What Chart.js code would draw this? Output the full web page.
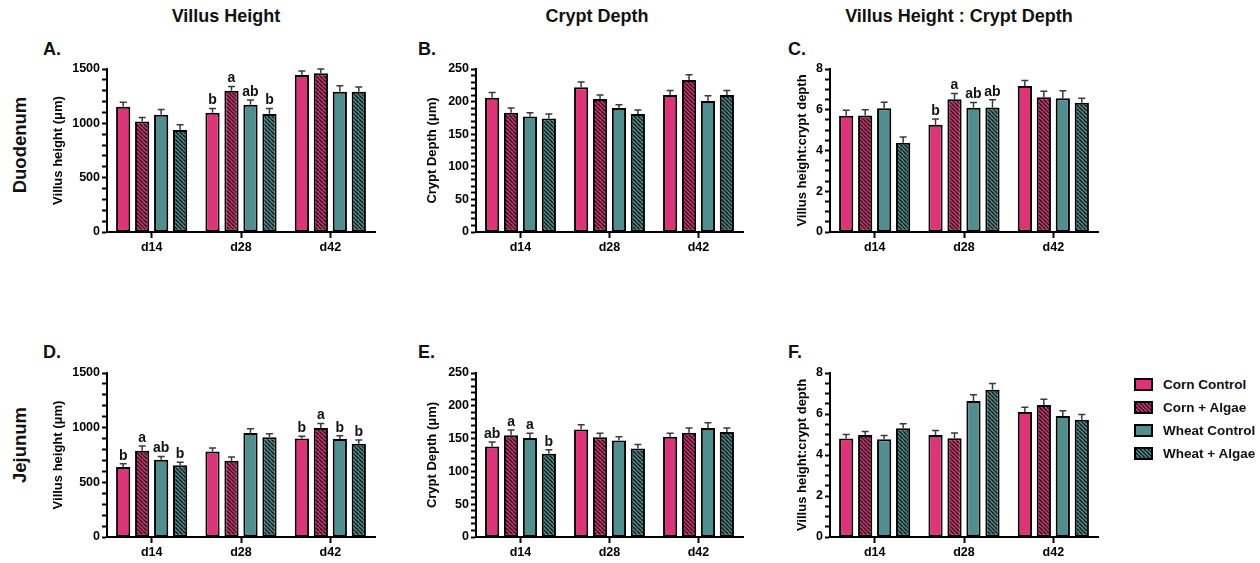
<!DOCTYPE html>
<html>
<head>
<meta charset="utf-8">
<script src="https://cdn.jsdelivr.net/npm/chart.js@4.4.1/dist/chart.umd.min.js"></script>
<style>
  body { margin: 0; background: #fff; font-family: "Liberation Sans", Arial, sans-serif; font-weight: bold; color: #111; }
  #page { position: relative; width: 1260px; height: 563px; overflow: hidden; }
  .abs { position: absolute; white-space: nowrap; }
  .coltitle { font-size: 18px; transform: translate(-50%, -50%); }
  .plabel { font-size: 18px; transform: translate(0, -50%); }
  .rowlabel { font-size: 18.5px; transform: translate(-50%, -50%) rotate(-90deg); }
  canvas { position: absolute; }
  .leg { position: absolute; left: 1134px; height: 20px; font-size: 13.5px; display: flex; align-items: center; white-space: nowrap; }
  .leg canvas { position: static; margin-right: 10px; }
</style>
</head>
<body>
<div id="page">
  <div class="abs coltitle" style="left:226px; top:16px;">Villus Height</div>
  <div class="abs coltitle" style="left:597px; top:16px;">Crypt Depth</div>
  <div class="abs coltitle" style="left:959px; top:16px;">Villus Height : Crypt Depth</div>

  <div class="abs rowlabel" style="left:20px; top:145px;">Duodenum</div>
  <div class="abs rowlabel" style="left:20px; top:445px;">Jejunum</div>

  <div class="abs plabel" style="left:43px; top:49px;">A.</div>
  <div class="abs plabel" style="left:418px; top:49px;">B.</div>
  <div class="abs plabel" style="left:788px; top:49px;">C.</div>
  <div class="abs plabel" style="left:43px; top:352px;">D.</div>
  <div class="abs plabel" style="left:418px; top:352px;">E.</div>
  <div class="abs plabel" style="left:788px; top:352px;">F.</div>

  <canvas id="pA"></canvas>
  <canvas id="pB"></canvas>
  <canvas id="pC"></canvas>
  <canvas id="pD"></canvas>
  <canvas id="pE"></canvas>
  <canvas id="pF"></canvas>
  <div id="legend"></div>
</div>
<script>
// grupos e tratamentos
const groups = ['d14', 'd28', 'd42'];
const seriesNames = ['Corn Control', 'Corn + Algae', 'Wheat Control', 'Wheat + Algae'];

// linhas = tratamento, colunas = d14, d28, d42
// Duodeno - altura das vilosidades
const duoVillusMean = [[1153, 1097, 1445], [1017, 1300, 1460], [1079, 1171, 1291], [938, 1085, 1291]];
const duoVillusErr  = [[40, 40, 37], [37, 40, 40], [49, 43, 55], [49, 52, 43]];
const duoVillusSig  = [['', 'b', ''], ['', 'a', ''], ['', 'ab', ''], ['', 'b', '']];
// Duodeno - profundidade de cripta
const duoCryptMean = [[206, 222, 210], [183, 204, 233], [177, 190, 201], [174, 181, 210]];
const duoCryptErr  = [[8, 8, 7], [7, 6, 8], [6, 5, 8], [7, 6, 7]];
// Duodeno - relação
const duoRatioMean = [[5.70, 5.26, 7.16], [5.72, 6.52, 6.61], [6.07, 6.10, 6.57], [4.38, 6.11, 6.34]];
const duoRatioErr  = [[0.27, 0.28, 0.28], [0.28, 0.28, 0.30], [0.30, 0.25, 0.36], [0.28, 0.38, 0.23]];
const duoRatioSig  = [['', 'b', ''], ['', 'a', ''], ['', 'ab', ''], ['', 'ab', '']];
// Jejuno - altura das vilosidades
const jejVillusMean = [[640, 781, 900], [790, 698, 997], [707, 951, 896], [656, 912, 854]];
const jejVillusErr  = [[30, 33, 21], [42, 34, 40], [30, 40, 31], [27, 33, 33]];
const jejVillusSig  = [['b', '', 'b'], ['a', '', 'a'], ['ab', '', 'b'], ['b', '', 'b']];
// Jejuno - profundidade de cripta
const jejCryptMean = [[138, 164, 153], [155, 152, 159], [151, 147, 166], [127, 135, 160]];
const jejCryptErr  = [[7, 7, 5], [8, 6, 7], [7, 6, 8], [6, 6, 6]];
const jejCryptSig  = [['ab', '', ''], ['a', '', ''], ['a', '', ''], ['b', '', '']];
// Jejuno - relação
const jejRatioMean = [[4.80, 4.97, 6.10], [4.97, 4.82, 6.44], [4.77, 6.64, 5.90], [5.31, 7.18, 5.72]];
const jejRatioErr  = [[0.20, 0.23, 0.23], [0.18, 0.25, 0.28], [0.18, 0.30, 0.26], [0.21, 0.31, 0.26]];

const FONT = '"Liberation Sans", Arial, sans-serif';
Chart.defaults.font.family = FONT;

const pink = '#df3279';
const teal = '#4f8f8f';

// padrão hachurado "\\\" para os grupos com alga
function makeHatch(base) {
  const s = 4;
  const tile = document.createElement('canvas');
  tile.width = s; tile.height = s;
  const c = tile.getContext('2d');
  c.fillStyle = base;
  c.fillRect(0, 0, s, s);
  c.strokeStyle = 'rgba(10,10,10,0.9)';
  c.lineWidth = 1.5;
  c.beginPath();
  for (const x0 of [-s, 0, s]) {
    c.moveTo(x0, 0);
    c.lineTo(x0 + s, s);
  }
  c.stroke();
  return c.createPattern(tile, 'repeat');
}
const fills = [pink, makeHatch(pink), teal, makeHatch(teal)];

// barras de erro (só para cima) e letras de significância
const errorBarPlugin = {
  id: 'errorBars',
  afterDatasetsDraw(chart) {
    const ctx = chart.ctx;
    const y = chart.scales.y;
    ctx.save();
    chart.data.datasets.forEach((ds, i) => {
      const meta = chart.getDatasetMeta(i);
      meta.data.forEach((bar, j) => {
        const top = y.getPixelForValue(ds.data[j] + ds.errors[j]);
        ctx.strokeStyle = '#3a3a3a';
        ctx.lineWidth = 1.5;
        ctx.beginPath();
        ctx.moveTo(bar.x, bar.y);
        ctx.lineTo(bar.x, top);
        ctx.moveTo(bar.x - 3.5, top);
        ctx.lineTo(bar.x + 3.5, top);
        ctx.stroke();
        const s = ds.sig ? ds.sig[j] : '';
        if (s) {
          ctx.fillStyle = '#111';
          ctx.font = 'bold 14px ' + FONT;
          ctx.textAlign = 'center';
          ctx.textBaseline = 'bottom';
          ctx.fillText(s, bar.x, top - 1);
        }
      });
    });
    ctx.restore();
  }
};

const panels = [
  { id: 'pA', left: 51,  top: 59,  width: 328, height: 203, yw: 56, max: 1500, major: 500, minor: 100, title: 'Villus height (\u03bcm)', mean: duoVillusMean, err: duoVillusErr, sig: duoVillusSig },
  { id: 'pB', left: 425, top: 59,  width: 322, height: 203, yw: 51, max: 250,  major: 50,  minor: 10,  title: 'Crypt Depth (\u03bcm)',   mean: duoCryptMean,  err: duoCryptErr },
  { id: 'pC', left: 795, top: 59,  width: 307, height: 203, yw: 35, max: 8,    major: 2,   minor: 0.5, title: 'Villus height:crypt depth', mean: duoRatioMean, err: duoRatioErr, sig: duoRatioSig },
  { id: 'pD', left: 51,  top: 363, width: 328, height: 204, yw: 56, max: 1500, major: 500, minor: 100, title: 'Villus height (\u03bcm)', mean: jejVillusMean, err: jejVillusErr, sig: jejVillusSig },
  { id: 'pE', left: 425, top: 363, width: 322, height: 204, yw: 51, max: 250,  major: 50,  minor: 10,  title: 'Crypt Depth (\u03bcm)',   mean: jejCryptMean,  err: jejCryptErr, sig: jejCryptSig },
  { id: 'pF', left: 795, top: 363, width: 307, height: 204, yw: 35, max: 8,    major: 2,   minor: 0.5, title: 'Villus height:crypt depth', mean: jejRatioMean, err: jejRatioErr }
];

panels.forEach(p => {
  const cv = document.getElementById(p.id);
  cv.width = p.width; cv.height = p.height;
  cv.style.left = p.left + 'px';
  cv.style.top = p.top + 'px';
  cv.style.width = p.width + 'px';
  cv.style.height = p.height + 'px';

  new Chart(cv.getContext('2d'), {
    type: 'bar',
    data: {
      labels: groups,
      datasets: seriesNames.map((name, k) => ({
        label: name,
        data: p.mean[k],
        errors: p.err[k],
        sig: p.sig ? p.sig[k] : null,
        backgroundColor: fills[k],
        borderColor: '#000',
        borderWidth: 2,
        borderSkipped: false,
        categoryPercentage: 0.85,
        barPercentage: 0.75
      }))
    },
    options: {
      responsive: false,
      animation: false,
      layout: { padding: { top: 10, right: 4, left: 0, bottom: 0 } },
      plugins: { legend: { display: false }, tooltip: { enabled: false } },
      scales: {
        x: {
          offset: true,
          grid: { drawOnChartArea: false, offset: false, tickLength: 6, tickWidth: 2, tickColor: '#000' },
          border: { color: '#000', width: 2 },
          ticks: { color: '#000', font: { size: 12.5, weight: 'bold' }, padding: 2 },
          afterFit: s => { s.height = 30; }
        },
        y: {
          min: 0,
          max: p.max,
          grid: { drawOnChartArea: false, tickLength: 5, tickWidth: 2, tickColor: '#000' },
          border: { color: '#000', width: 2 },
          ticks: {
            stepSize: p.minor,
            autoSkip: false,
            color: '#000',
            font: { size: 12.5, weight: 'bold' },
            padding: 2,
            callback: v => (Math.abs(v / p.major - Math.round(v / p.major)) < 1e-6 ? v : '')
          },
          title: { display: true, text: p.title, color: '#000', font: { size: 13, weight: 'bold' }, padding: { top: 0, bottom: 0 } },
          afterFit: s => { s.width = p.yw; }
        }
      }
    },
    plugins: [errorBarPlugin]
  });
});

// legenda
const legendRows = [384, 407, 430, 453];
const legend = document.getElementById('legend');
seriesNames.forEach((name, k) => {
  const row = document.createElement('div');
  row.className = 'leg';
  row.style.top = (legendRows[k] - 10) + 'px';
  const sw = document.createElement('canvas');
  sw.width = 19; sw.height = 13;
  const c = sw.getContext('2d');
  c.fillStyle = fills[k];
  c.fillRect(0, 0, 19, 13);
  c.strokeStyle = '#000';
  c.lineWidth = 2;
  c.strokeRect(1, 1, 17, 11);
  row.appendChild(sw);
  row.appendChild(document.createTextNode(name));
  legend.appendChild(row);
});
</script>
</body>
</html>
